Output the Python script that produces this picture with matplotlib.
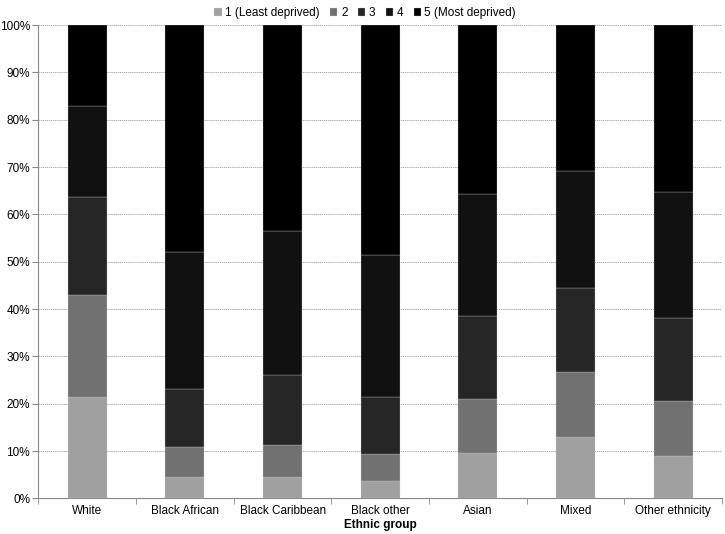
import numpy as np
import matplotlib
matplotlib.use('Agg')
import matplotlib.pyplot as plt

plt.rcParams['font.family'] = ['Liberation Sans', 'DejaVu Sans']

groups = ['White', 'Black African', 'Black Caribbean', 'Black other', 'Asian', 'Mixed', 'Other ethnicity']
quintiles = ['1 (Least deprived)', '2', '3', '4', '5 (Most deprived)']
# cumulative tops of quintiles 1-4 (%)
cum1 = [21.4, 4.5, 4.6, 3.7, 9.7, 13.0, 8.9]
cum2 = [42.9, 10.8, 11.2, 9.4, 21.0, 26.8, 20.6]
cum3 = [63.6, 23.1, 26.1, 21.4, 38.6, 44.4, 38.1]
cum4 = [82.9, 52.0, 56.6, 51.5, 64.3, 69.2, 64.7]
colors = ['#a0a0a0', '#717171', '#262626', '#111111', '#000000']

c = np.array([np.zeros(7), cum1, cum2, cum3, cum4, np.full(7, 100.0)])
shares = np.diff(c, axis=0)

fig = plt.figure(figsize=(7.25, 5.34), dpi=100)
ax = fig.add_axes([0.053, 0.0665, 0.943, 0.8865])
x = np.arange(len(groups))
for k in range(5):
    ax.bar(x, shares[k], bottom=c[k], width=0.4, color=colors[k], label=quintiles[k],
           edgecolor='#cfcfcf', linewidth=0.2, zorder=3)

ax.set_xlim(-0.5, 6.5)
ax.set_ylim(0, 100)
ax.set_yticks(np.arange(0, 101, 10))
ax.set_yticklabels([f'{v}%' for v in range(0, 101, 10)], fontsize=8.5)
ax.yaxis.grid(True, ls=(0, (1.5, 1)), color='#9a9a9a', lw=0.6, zorder=0)
ax.set_xticks(x)
ax.set_xticklabels(groups, fontsize=8.5)
ax.tick_params(axis='x', length=0, pad=5)
ax.set_xticks(np.arange(-0.5, 7, 1), minor=True)
ax.tick_params(axis='x', which='minor', length=4, color='#888888')
ax.tick_params(axis='y', length=4, color='#888888', pad=2)
for s in ['top', 'right']:
    ax.spines[s].set_visible(False)
for s in ['left', 'bottom']:
    ax.spines[s].set_color('#888888')
ax.set_xlabel('Ethnic group', fontsize=8.5, fontweight='bold', labelpad=1)

ax.legend(loc='lower center', bbox_to_anchor=(0.478, 1.0), ncol=5, frameon=False, fontsize=8.5,
          handlelength=0.6, handleheight=0.6, handletextpad=0.3, columnspacing=0.9, borderaxespad=0.1)

fig.savefig('out.png', dpi=100)
